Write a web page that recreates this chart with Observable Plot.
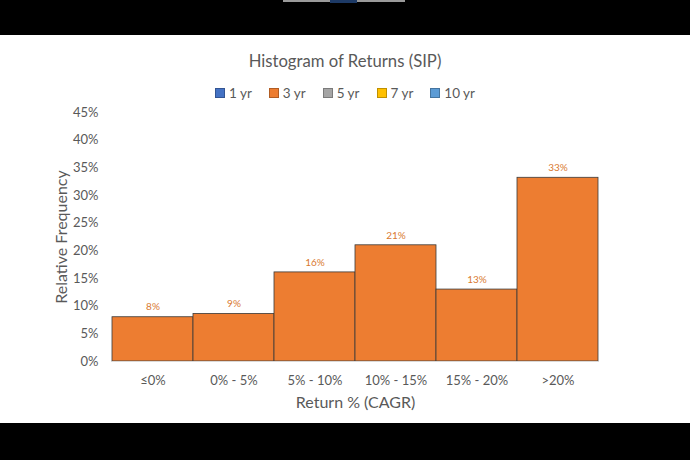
<!DOCTYPE html>
<html>
<head>
<meta charset="utf-8">
<script src="https://cdn.jsdelivr.net/npm/d3@7"></script>
<script src="https://cdn.jsdelivr.net/npm/@observablehq/plot@0.6"></script>
<style>
  html, body { margin: 0; padding: 0; width: 690px; height: 460px; overflow: hidden; background: #fff; font-family: Lato, "Open Sans", sans-serif; }
  .band { position: absolute; left: 0; width: 690px; background: #000; }
  #title { position: absolute; top: 51px; left: 0; width: 690px; text-align: center; font-size: 16.7px; color: #595959; }
  #legend { position: absolute; top: 85px; left: 0; width: 690px; display: flex; justify-content: center; gap: 17px; font-size: 13.5px; color: #595959; }
  #legend span.sw { display: inline-block; width: 8px; height: 8px; margin-right: 4px; vertical-align: 0px; border: 0.5px solid rgba(0,0,0,0.25); }
  #chart { position: absolute; top: 100px; left: 0; }
</style>
</head>
<body>
<div class="band" style="top:0;height:35px;"></div>
<div style="position:absolute;top:0;left:283px;width:122px;height:2px;background:#9a9a9a;"></div>
<div style="position:absolute;top:0;left:330px;width:27px;height:3px;background:#1d3a66;"></div>
<div id="title">Histogram of Returns (SIP)</div>
<div id="legend"></div>
<div id="chart"></div>
<div class="band" style="top:423px;height:37px;"></div>
<script>
const categories = ["≤0%", "0% - 5%", "5% - 10%", "10% - 15%", "15% - 20%", ">20%"];
const values = [0.080, 0.086, 0.161, 0.210, 0.130, 0.332];
const seriesNames = ["1 yr", "3 yr", "5 yr", "7 yr", "10 yr"];
const seriesColors = ["#4472C4", "#ED7D31", "#A5A5A5", "#FFC000", "#5B9BD5"];
const yTicks = [0, 0.05, 0.10, 0.15, 0.20, 0.25, 0.30, 0.35, 0.40, 0.45];

const data = categories.map((c, i) => ({category: c, value: values[i]}));

const legend = document.getElementById("legend");
seriesNames.forEach((s, i) => {
  const item = document.createElement("div");
  item.innerHTML = `<span class="sw" style="background:${seriesColors[i]}"></span>${s}`;
  legend.appendChild(item);
});

const fmt = d3.format(".0%");
const chart = Plot.plot({
  width: 690,
  height: 320,
  marginTop: 12,
  marginBottom: 59,
  marginLeft: 111,
  marginRight: 91,
  style: {fontFamily: "Lato, 'Open Sans', sans-serif", color: "#595959", background: "transparent"},
  x: {domain: categories, padding: 0},
  y: {domain: [0, 0.45]},
  marks: [
    Plot.barY(data, {x: "category", y: "value", fill: seriesColors[1], stroke: "#3a3a3a", strokeWidth: 0.8}),
    Plot.text(data, {x: "category", y: "value", text: d => fmt(d.value), dy: -10, fill: "#D9792F", fontSize: 10}),
    Plot.axisY({ticks: yTicks, tickFormat: fmt, tickSize: 0, tickPadding: 13, fontSize: 13,
      label: "Relative Frequency", labelAnchor: "center", labelArrow: "none", labelOffset: 56}),
    Plot.axisX({tickSize: 0, tickPadding: 14, fontSize: 13,
      label: "Return % (CAGR)", labelAnchor: "center", labelArrow: "none", labelOffset: 46}),
    Plot.ruleY([0], {stroke: "#d9d9d9"})
  ]
});
chart.querySelectorAll("[aria-label='y-axis label'], [aria-label='x-axis label']").forEach(g => g.setAttribute("font-size", 16));
document.getElementById("chart").appendChild(chart);
</script>
</body>
</html>
